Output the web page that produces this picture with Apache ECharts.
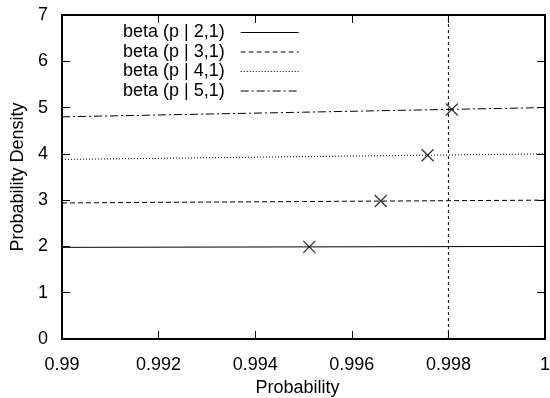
<!DOCTYPE html>
<html>
<head>
<meta charset="utf-8">
<script src="https://cdn.jsdelivr.net/npm/echarts@6/dist/echarts.min.js"></script>
<style>html,body{margin:0;padding:0;background:#fff;}#c{width:550px;height:398px;}</style>
</head>
<body>
<div id="c"></div>
<script>
// Data
var seriesNames = ['beta (p | 2,1)', 'beta (p | 3,1)', 'beta (p | 4,1)', 'beta (p | 5,1)'];
var pValues = [0.99, 0.995, 1.0];
var beta21 = [1.98, 1.99, 2.0];
var beta31 = [2.94, 2.97, 3.0];
var beta41 = [3.88, 3.94, 4.0];
var beta51 = [4.80, 4.90, 5.0];
var markerX = [0.99512, 0.99660, 0.99757, 0.99807];
var markerY = [1.99, 2.98, 3.97, 4.96];
var vlineX = 0.998;
var vlineY = [0, 7];
var xTicks = [0.99, 0.992, 0.994, 0.996, 0.998, 1];
var yTicks = [0, 1, 2, 3, 4, 5, 6, 7];

function pairs(xs, ys) { return xs.map(function (x, i) { return [x, ys[i]]; }); }

var FONT = 'Liberation Sans';
var FS = 18;
var chart = echarts.init(document.getElementById('c'), null, {renderer: 'canvas'});
var styles = ['solid', [5, 3], [1, 2], [8, 3, 2, 3]];
var dataSets = [beta21, beta31, beta41, beta51];

var series = dataSets.map(function (d, i) {
  return {
    name: seriesNames[i], type: 'line', data: pairs(pValues, d),
    symbol: 'none', silent: true, animation: false,
    lineStyle: {color: '#000', width: 1, type: styles[i]},
    itemStyle: {color: '#000'}
  };
});
series.push({
  name: 'markers', type: 'scatter', animation: false,
  data: pairs(markerX, markerY),
  symbol: 'path://M0,0L10,10M10,0L0,10', symbolSize: 12,
  itemStyle: {color: 'rgba(0,0,0,0)', borderColor: '#000', borderWidth: 1.3}
});
series.push({
  name: 'vline', type: 'line', animation: false, symbol: 'none',
  data: vlineY.map(function (y) { return [vlineX, y]; }),
  lineStyle: {color: '#000', width: 1, type: [3, 3]}
});

function fmt(v) { return String(parseFloat(Number(v).toFixed(3))); }

var axisLine = {show: true, onZero: false, lineStyle: {color: '#000', width: 2}};
var axisTick = {show: true, inside: true, length: 8, lineStyle: {color: '#000', width: 1}};

chart.setOption({
  animation: false,
  backgroundColor: '#fff',
  grid: {left: 62, right: 5, top: 15, bottom: 59, containLabel: false, outerBoundsMode: 'none'},
  legend: {
    data: seriesNames, orient: 'vertical', left: 123, top: 23, padding: 0,
    align: 'right', itemWidth: 58, itemHeight: 10, itemGap: 0.5,
    itemStyle: {opacity: 0},
    lineStyle: {width: 1},
    textStyle: {fontFamily: FONT, fontSize: FS, color: '#000', lineHeight: 19, padding: [0, 11, 0, 0]},
    selectedMode: false
  },
  xAxis: [{
    type: 'value', min: xTicks[0], max: xTicks[xTicks.length - 1], interval: 0.002,
    position: 'bottom', name: 'Probability', nameLocation: 'middle', nameGap: 40,
    nameTextStyle: {fontFamily: FONT, fontSize: FS, color: '#000', padding: [0, 12, 0, 0]},
    axisLine: axisLine, axisTick: axisTick, splitLine: {show: false},
    axisLabel: {fontFamily: FONT, fontSize: FS, color: '#000', margin: 17, formatter: fmt}
  }, {
    type: 'value', min: xTicks[0], max: xTicks[xTicks.length - 1], interval: 0.002,
    position: 'top', axisLine: axisLine, axisTick: axisTick,
    axisLabel: {show: false}, splitLine: {show: false}
  }],
  yAxis: [{
    type: 'value', min: yTicks[0], max: yTicks[yTicks.length - 1], interval: 1,
    position: 'left', name: 'Probability Density', nameLocation: 'middle', nameGap: 34,
    nameTextStyle: {fontFamily: FONT, fontSize: FS, color: '#000'},
    axisLine: axisLine, axisTick: axisTick, splitLine: {show: false},
    axisLabel: {fontFamily: FONT, fontSize: FS, color: '#000', margin: 14}
  }, {
    type: 'value', min: yTicks[0], max: yTicks[yTicks.length - 1], interval: 1,
    position: 'right', axisLine: axisLine, axisTick: axisTick,
    axisLabel: {show: false}, splitLine: {show: false}
  }],
  series: series
});
</script>
</body>
</html>
